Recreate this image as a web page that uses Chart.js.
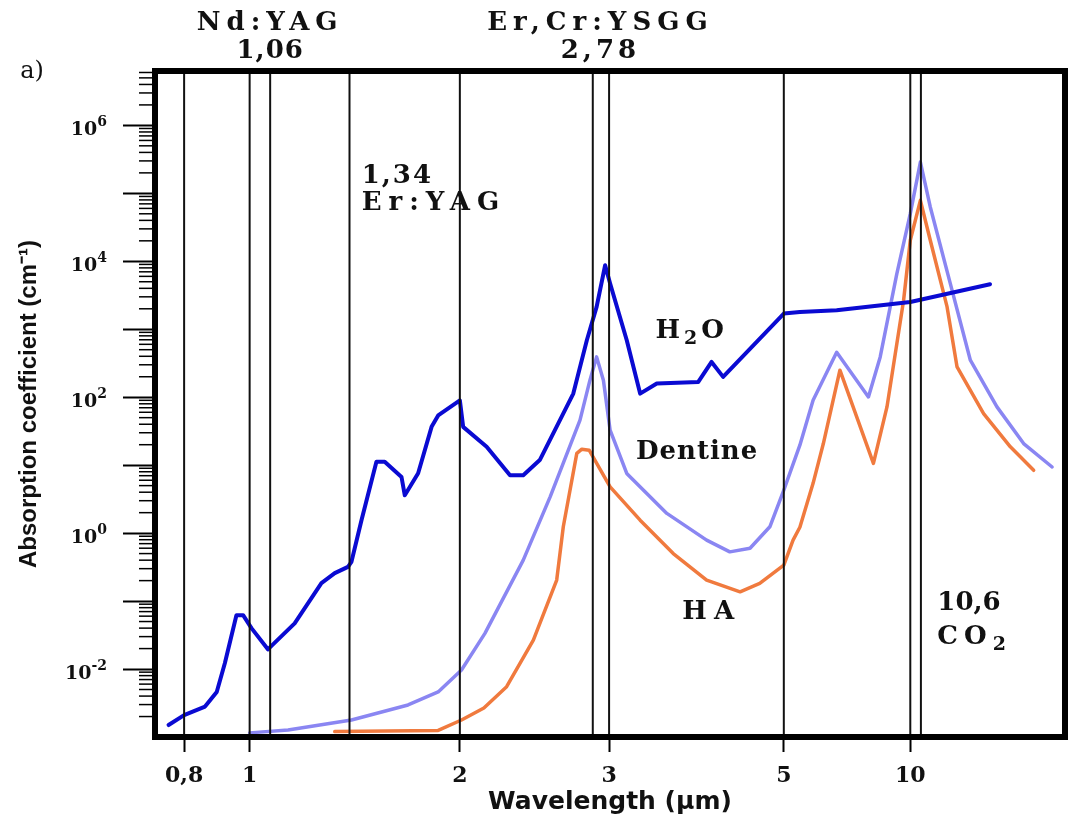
<!DOCTYPE html>
<html>
<head>
<meta charset="utf-8">
<title>Absorption coefficient vs wavelength</title>
<script src="https://cdn.jsdelivr.net/npm/chart.js@4.4.1/dist/chart.umd.min.js"></script>
<style>
  html, body { margin: 0; padding: 0; background: #fff; }
  #wrap { position: relative; width: 1071px; height: 817px; }
</style>
</head>
<body>
<div id="wrap"><canvas id="absorptionChart"></canvas></div>
<script>
// ---- values (wavelength in µm, absorption in cm-1) ----
const h2oWavelength = [0.759, 0.8, 0.859, 0.894, 0.919, 0.956, 0.978, 1.006, 1.062, 1.16,
  1.267, 1.324, 1.383, 1.399, 1.446, 1.519, 1.561, 1.65, 1.668, 1.743,
  1.822, 1.862, 2.0, 2.018, 2.151, 2.292, 2.376, 2.485, 2.722, 2.824,
  2.90, 2.968, 3.009, 3.159, 3.285, 3.449, 3.894, 4.048, 4.187, 5.0,
  5.46, 6.68, 10.0, 15.5];
const h2oAbsorption = [0.0015, 0.0021, 0.0028, 0.0046, 0.0122, 0.062, 0.062, 0.040, 0.0195, 0.047,
  0.184, 0.258, 0.319, 0.378, 1.55, 11.2, 11.2, 6.7, 3.6, 7.6,
  36.6, 54, 90, 36.6, 18.6, 7.1, 7.1, 11.9, 113, 689,
  2130, 8740, 4700, 689, 113, 159, 168, 330, 199, 1700,
  1796, 1900, 2520, 4590];

const dentineWavelength = [1.0, 1.135, 1.399, 1.686, 1.862, 2.009, 2.141, 2.376, 2.556, 2.772,
  2.848, 2.90, 2.954, 3.009, 3.159, 3.552, 3.99, 4.27, 4.53, 4.80,
  5.0, 5.46, 5.87, 6.68, 7.95, 8.48, 9.29, 10.0, 10.57, 11.16,
  12.46, 13.91, 16.1, 18.64, 21.8];
const dentineAbsorption = [0.00115, 0.00127, 0.00178, 0.00296, 0.0046, 0.0097, 0.0335, 0.40, 3.42, 45.9,
  178, 392, 178, 32.7, 7.55, 1.95, 0.79, 0.53, 0.60, 1.24,
  4.3, 19.7, 90, 459, 101, 392, 6590, 50300, 288000, 63000,
  4700, 350, 72, 20.8, 9.4];

const haWavelength = [1.324, 1.862, 2.009, 2.135, 2.271, 2.442, 2.602, 2.649, 2.748, 2.786,
  2.842, 3.009, 3.285, 3.619, 3.99, 4.40, 4.66, 5.0, 5.26, 5.46,
  5.87, 6.21, 6.80, 8.17, 8.80, 9.64, 10.0, 10.57, 11.16, 12.24,
  12.93, 14.96, 17.33, 19.7];
const haAbsorption = [0.0012, 0.00125, 0.00178, 0.00267, 0.0055, 0.0267, 0.204, 1.24, 14.9, 17.2,
  16.6, 4.8, 1.55, 0.50, 0.204, 0.137, 0.182, 0.338, 0.79, 1.22,
  5.4, 20.8, 250, 10.6, 72, 2670, 20400, 78900, 20400, 2130,
  279, 57.5, 18.6, 8.4];

// laser lines (where they sit on the drawn axis)
const laserWavelength = [0.8, 1.0, 1.07, 1.39, 2.0, 2.87, 3.0, 5.0, 10.0, 10.6];

const xTickValues = [0.8, 1, 2, 3, 5, 10];
const xTickLabels = ['0,8', '1', '2', '3', '5', '10'];
const yDecades = [-2, -1, 0, 1, 2, 3, 4, 5, 6];
const yLabelExponents = [-2, 0, 2, 4, 6];

const yMin = 1e-3;
const yMax = Math.pow(10, 6.8);

// The wavelength axis of the original is hand drawn: log-like but not uniform.
// Knots: [wavelength, fraction of axis width]
const xAxisKnots = [[0.725, 0], [0.8, 0.032], [1, 0.104], [2, 0.335], [3, 0.499],
  [5, 0.691], [10, 0.830], [23.4, 1]];

class WarpedLogScale extends Chart.LogarithmicScale {
  static id = 'warpedLog';
  static defaults = Chart.LogarithmicScale.defaults;

  getPixelForValue(value) {
    const lv = Math.log10(value);
    const k = xAxisKnots;
    let i = 1;
    while (i < k.length - 1 && lv > Math.log10(k[i][0])) i++;
    const l0 = Math.log10(k[i - 1][0]), l1 = Math.log10(k[i][0]);
    const d = k[i - 1][1] + (lv - l0) / (l1 - l0) * (k[i][1] - k[i - 1][1]);
    return this.getPixelForDecimal(d);
  }

  getValueForPixel(pixel) {
    const d = this.getDecimalForPixel(pixel);
    const k = xAxisKnots;
    let i = 1;
    while (i < k.length - 1 && d > k[i][1]) i++;
    const l0 = Math.log10(k[i - 1][0]), l1 = Math.log10(k[i][0]);
    return Math.pow(10, l0 + (d - k[i - 1][1]) / (k[i][1] - k[i - 1][1]) * (l1 - l0));
  }
}
Chart.register(WarpedLogScale);

const SERIF = '"DejaVu Serif", "Liberation Serif", serif';

// text placed on the figure; wl/ab anchor to the scales, dx/dy are offsets from the plot frame
const notes = [
  { text: 'a)', dx: -123, dy: 1, bold: false, size: 24, spacing: 0 },
  { text: 'Nd:YAG', wl: 1.07, dy: -48, spacing: 6 },
  { text: '1,06', wl: 1.07, dy: -20, spacing: 1 },
  { text: 'Er,Cr:YSGG', wl: 2.93, dy: -48, spacing: 6 },
  { text: '2,78', wl: 2.93, dy: -20, spacing: 4 },
  { text: '1,34', wl: 1.447, ab: 1.8e5, align: 'left', spacing: 2 },
  { text: 'Er:YAG', wl: 1.447, ab: 7.1e4, align: 'left', spacing: 7 },
  { text: 'H_{2}O', wl: 3.82, ab: 933, spacing: 4 },
  { text: 'Dentine', wl: 3.88, ab: 15.5, spacing: 1 },
  { text: 'HA', wl: 4.05, ab: 0.069, spacing: 7 },
  { text: '10,6', wl: 11.6, ab: 0.093, align: 'left', spacing: 0 },
  { text: 'CO_{2}', wl: 11.6, ab: 0.0295, align: 'left', spacing: 6 }
];

function drawRich(ctx, note, x, y) {
  const size = note.size || 26;
  const weight = note.bold === false ? 'normal' : 'bold';
  const parts = note.text.split(/(_\{[^}]*\}|\^\{[^}]*\})/).filter(Boolean).map(s => {
    if (s.startsWith('_{')) return { t: s.slice(2, -1), shift: 0.3 };
    if (s.startsWith('^{')) return { t: s.slice(2, -1), shift: -0.4 };
    return { t: s, shift: 0 };
  });
  ctx.letterSpacing = (note.spacing || 0) + 'px';
  let total = 0;
  parts.forEach(p => {
    p.size = p.shift ? Math.round(size * 0.72) : size;
    ctx.font = `${weight} ${p.size}px ${SERIF}`;
    p.w = ctx.measureText(p.t).width;
    total += p.w;
  });
  let cx = note.align === 'left' ? x : note.align === 'right' ? x - total : x - total / 2;
  ctx.textAlign = 'left';
  ctx.textBaseline = 'middle';
  parts.forEach(p => {
    ctx.font = `${weight} ${p.size}px ${SERIF}`;
    ctx.fillText(p.t, cx, y + p.shift * size);
    cx += p.w;
  });
  ctx.letterSpacing = '0px';
}

const figureDecor = {
  id: 'figureDecor',
  afterDraw(chart) {
    const { ctx, chartArea: area, scales: { x, y } } = chart;
    ctx.save();
    ctx.strokeStyle = '#000';
    ctx.fillStyle = '#111';

    // minor log ticks on the absorption axis
    ctx.lineWidth = 1.5;
    for (let e = -3; e <= 6; e++) {
      for (let m = 2; m <= 9; m++) {
        const v = m * Math.pow(10, e);
        if (v > y.max) continue;
        const py = y.getPixelForValue(v);
        ctx.beginPath();
        ctx.moveTo(area.left - 16, py);
        ctx.lineTo(area.left, py);
        ctx.stroke();
      }
    }

    // decade labels 10^n with a real raised exponent
    yLabelExponents.forEach(e => {
      const py = y.getPixelForValue(Math.pow(10, e));
      drawRich(ctx, { text: '10^{' + e + '}', size: 19, spacing: 0, align: 'right' }, area.left - 48, py + 5);
    });

    // heavy plot frame
    ctx.lineWidth = 6;
    ctx.strokeRect(area.left, area.top, area.right - area.left, area.bottom - area.top);

    notes.forEach(n => {
      const px = n.wl !== undefined ? x.getPixelForValue(n.wl) : area.left + n.dx;
      const py = n.ab !== undefined ? y.getPixelForValue(n.ab) : area.top + n.dy;
      drawRich(ctx, n, px, py);
    });
    ctx.restore();
  }
};

const toPoints = (xs, ys) => xs.map((v, i) => ({ x: v, y: ys[i] }));

const laserDatasets = laserWavelength.map(wl => ({
  data: [{ x: wl, y: yMin }, { x: wl, y: yMax }],
  borderColor: '#111',
  borderWidth: 2
}));

new Chart(document.getElementById('absorptionChart'), {
  type: 'line',
  data: {
    datasets: [
      ...laserDatasets,
      { label: 'H2O', data: toPoints(h2oWavelength, h2oAbsorption), borderColor: '#0a0ad2', borderWidth: 4 },
      { label: 'HA', data: toPoints(haWavelength, haAbsorption), borderColor: '#f07a3e', borderWidth: 3.5 },
      { label: 'Dentine', data: toPoints(dentineWavelength, dentineAbsorption), borderColor: '#8a86f2', borderWidth: 3.5 }
    ]
  },
  options: {
    responsive: true,
    maintainAspectRatio: false,
    animation: false,
    events: [],
    layout: { padding: { top: 71, right: 6, left: 0, bottom: 0 } },
    plugins: { legend: { display: false }, tooltip: { enabled: false } },
    elements: { point: { radius: 0 }, line: { tension: 0, borderJoinStyle: 'round', borderCapStyle: 'round' } },
    scales: {
      x: {
        type: 'warpedLog',
        min: 0.725,
        max: 23.4,
        afterBuildTicks: s => { s.ticks = xTickValues.map(v => ({ value: v })); },
        afterFit: s => { s.height = 80; },
        border: { display: false },
        grid: { drawOnChartArea: false, drawTicks: true, tickLength: 15, tickColor: '#000', tickWidth: 2 },
        ticks: {
          autoSkip: false, maxRotation: 0, padding: 11, color: '#111',
          font: { family: SERIF, weight: 'bold', size: 22 },
          callback: (v, i) => xTickLabels[i]
        },
        title: {
          display: true, text: 'Wavelength (µm)', color: '#111',
          font: { family: '"DejaVu Sans", sans-serif', weight: 'bold', size: 25 },
          padding: { top: 0, bottom: 0 }
        }
      },
      y: {
        type: 'logarithmic',
        min: yMin,
        max: yMax,
        afterBuildTicks: s => { s.ticks = yDecades.map(e => ({ value: Math.pow(10, e) })); },
        afterFit: s => { s.width = 155; },
        border: { display: false },
        grid: { drawOnChartArea: false, drawTicks: true, tickLength: 32, tickColor: '#000', tickWidth: 2 },
        ticks: { autoSkip: false, padding: 16, callback: () => '' },
        title: {
          display: true, text: 'Absorption coefficient (cm⁻¹)', color: '#111',
          font: { family: '"Liberation Sans", Arial, sans-serif', weight: 'bold', size: 24 },
          padding: { top: 15, bottom: 0 }
        }
      }
    }
  },
  plugins: [figureDecor]
});
</script>
</body>
</html>
